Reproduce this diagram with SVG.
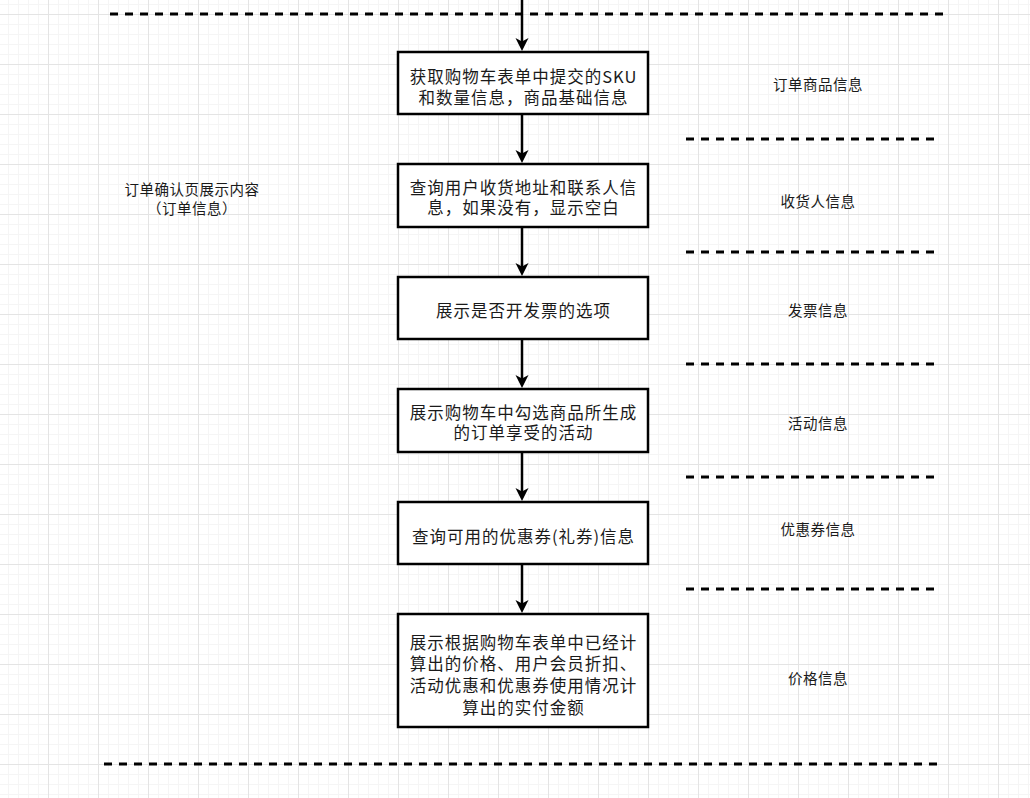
<svg xmlns="http://www.w3.org/2000/svg" width="1030" height="798" viewBox="0 0 1030 798">
<defs>
<pattern id="minor" patternUnits="userSpaceOnUse" x="-2" y="4" width="10" height="10">
<path d="M0.5,0 V10 M0,0.5 H10" fill="none" stroke="#f5f5f5" stroke-width="1"/>
</pattern>
<pattern id="major" patternUnits="userSpaceOnUse" x="-2" y="14" width="50" height="50">
<path d="M0.5,0 V50 M0,0.5 H50" fill="none" stroke="#e4e4e4" stroke-width="1"/>
</pattern>
<path id="ah" d="M0,0 L-6.5,-13 L0,-9.5 L6.5,-13 Z" fill="#000"/>
<style>
.box{fill:#fff;stroke:#000;stroke-width:2.5}
.bt{font-family:"Noto Sans CJK SC","Noto Sans",sans-serif;font-size:16.5px;letter-spacing:1px;fill:#1a1a1a;text-anchor:middle;dominant-baseline:central}
.lb{font-family:"Noto Sans CJK SC","Noto Sans",sans-serif;font-size:14.5px;letter-spacing:0.5px;fill:#1a1a1a;text-anchor:middle;dominant-baseline:central}
.dash{stroke:#000;stroke-width:3;stroke-dasharray:8 7;fill:none}
.conn{stroke:#000;stroke-width:2.5;fill:none}
</style>
</defs>
<rect width="1030" height="798" fill="#fff"/>
<rect width="1030" height="798" fill="url(#minor)"/>
<rect width="1030" height="798" fill="url(#major)"/>

<g id="separators">
<line class="dash" x1="110" y1="14" x2="945" y2="14"/>
<line class="dash" x1="686" y1="139" x2="935" y2="139"/>
<line class="dash" x1="686" y1="252" x2="935" y2="252"/>
<line class="dash" x1="686" y1="364" x2="935" y2="364"/>
<line class="dash" x1="686" y1="477" x2="935" y2="477"/>
<line class="dash" x1="686" y1="589" x2="935" y2="589"/>
<line class="dash" x1="104" y1="764" x2="940" y2="764"/>
</g>

<g id="connectors">
<line class="conn" x1="522" y1="0" x2="522" y2="43"/>
<use href="#ah" x="522" y="51"/>
<line class="conn" x1="522" y1="114" x2="522" y2="155"/>
<use href="#ah" x="522" y="163"/>
<line class="conn" x1="522" y1="227" x2="522" y2="268"/>
<use href="#ah" x="522" y="276"/>
<line class="conn" x1="522" y1="339" x2="522" y2="380"/>
<use href="#ah" x="522" y="388"/>
<line class="conn" x1="522" y1="452" x2="522" y2="493"/>
<use href="#ah" x="522" y="501"/>
<line class="conn" x1="522" y1="564" x2="522" y2="605"/>
<use href="#ah" x="522" y="613"/>
</g>

<g id="n1">
<rect class="box" x="398" y="52" width="250" height="62"/>
<text class="bt"><tspan x="523.5" y="76">获取购物车表单中提交的SKU</tspan><tspan x="523.5" y="97">和数量信息，商品基础信息</tspan></text>
</g>
<g id="n2">
<rect class="box" x="398" y="164" width="250" height="63"/>
<text class="bt"><tspan x="523.5" y="187">查询用户收货地址和联系人信</tspan><tspan x="523.5" y="207">息，如果没有，显示空白</tspan></text>
</g>
<g id="n3">
<rect class="box" x="398" y="277" width="250" height="62"/>
<text class="bt" x="523.5" y="310">展示是否开发票的选项</text>
</g>
<g id="n4">
<rect class="box" x="398" y="389" width="250" height="63"/>
<text class="bt"><tspan x="523.5" y="412">展示购物车中勾选商品所生成</tspan><tspan x="523.5" y="432">的订单享受的活动</tspan></text>
</g>
<g id="n5">
<rect class="box" x="398" y="502" width="250" height="62"/>
<text class="bt" x="523.5" y="536">查询可用的优惠券(礼券)信息</text>
</g>
<g id="n6">
<rect class="box" x="398" y="614" width="250" height="113"/>
<text class="bt"><tspan x="523.5" y="642">展示根据购物车表单中已经计</tspan><tspan x="523.5" y="663">算出的价格、用户会员折扣、</tspan><tspan x="523.5" y="685">活动优惠和优惠券使用情况计</tspan><tspan x="523.5" y="707">算出的实付金额</tspan></text>
</g>

<g id="label-left">
<text class="lb"><tspan x="192" y="188">订单确认页展示内容</tspan><tspan x="192" y="207">（订单信息）</tspan></text>
</g>
<g id="label-goods"><text class="lb" x="818" y="83">订单商品信息</text></g>
<g id="label-receiver"><text class="lb" x="818" y="200">收货人信息</text></g>
<g id="label-invoice"><text class="lb" x="818" y="309">发票信息</text></g>
<g id="label-activity"><text class="lb" x="818" y="422">活动信息</text></g>
<g id="label-coupon"><text class="lb" x="818" y="528">优惠券信息</text></g>
<g id="label-price"><text class="lb" x="818" y="677">价格信息</text></g>
</svg>
